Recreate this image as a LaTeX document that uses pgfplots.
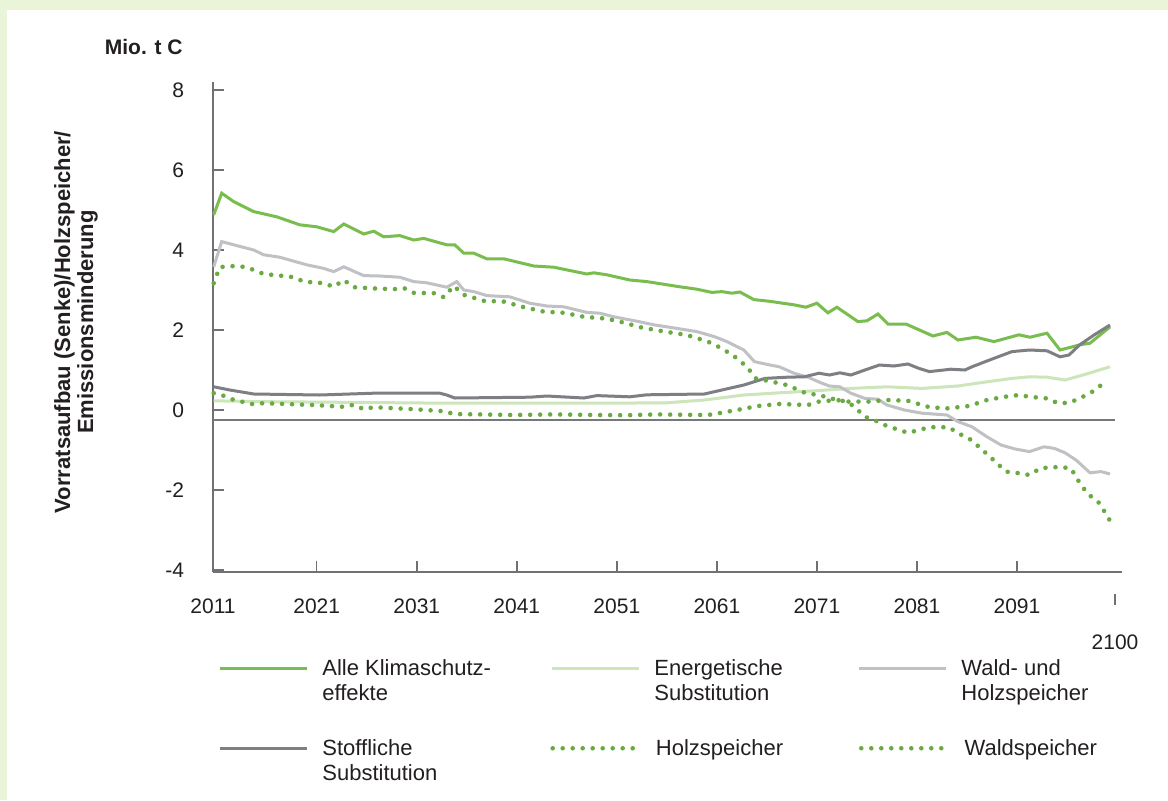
\documentclass[border=0pt]{standalone}
\usepackage{fontspec}
\setmainfont{Liberation Sans}
\usepackage{pgfplots}
\pgfplotsset{compat=1.18}
\definecolor{bggreen}{HTML}{E9F4D8}
\definecolor{txt}{HTML}{231F20}
\definecolor{axisgray}{HTML}{707174}
\definecolor{alle}{HTML}{79BD4F}
\definecolor{energ}{HTML}{CCE5BA}
\definecolor{waldholz}{HTML}{BFC1C4}
\definecolor{stoff}{HTML}{7D7F83}
\definecolor{dotgreen}{HTML}{6BAA43}
\definecolor{zeroline}{HTML}{77787B}

\pgfplotstableread{
year val
2010.7 4.88
2011.5 5.42
2012.7 5.21
2014.7 4.96
2017.0 4.83
2019.3 4.63
2021.0 4.58
2022.7 4.46
2023.7 4.65
2025.7 4.40
2026.7 4.47
2027.7 4.33
2029.3 4.36
2030.7 4.25
2031.7 4.29
2034.0 4.13
2034.8 4.13
2035.7 3.92
2036.7 3.92
2038.0 3.78
2039.7 3.78
2042.7 3.60
2044.7 3.57
2048.0 3.40
2048.7 3.43
2050.0 3.38
2052.3 3.25
2054.0 3.21
2057.3 3.08
2059.0 3.02
2060.5 2.94
2061.5 2.96
2062.5 2.92
2063.3 2.95
2064.7 2.76
2066.2 2.72
2068.7 2.63
2069.9 2.57
2071.0 2.67
2072.1 2.43
2073.0 2.57
2075.1 2.21
2076.0 2.23
2077.1 2.40
2078.1 2.15
2079.9 2.15
2082.6 1.85
2084.0 1.94
2085.1 1.75
2086.9 1.82
2088.7 1.71
2091.2 1.88
2092.3 1.82
2094.0 1.92
2095.3 1.50
2097.3 1.63
2098.3 1.67
2100.3 2.08
}\alletab

\pgfplotstableread{
year val
2010.7 0.23
2015.0 0.21
2020.0 0.20
2025.0 0.19
2034.0 0.17
2040.0 0.17
2049.4 0.17
2056.0 0.18
2059.75 0.25
2063.7 0.375
2067.25 0.43
2070.8 0.48
2074.4 0.54
2078.0 0.58
2081.5 0.54
2085.1 0.60
2087.0 0.67
2090.5 0.79
2092.25 0.83
2094.0 0.82
2095.8 0.75
2097.6 0.875
2100.3 1.08
}\energtab

\pgfplotstableread{
year val
2010.7 3.58
2011.5 4.21
2012.7 4.13
2014.7 4.00
2015.7 3.88
2017.3 3.82
2020.0 3.63
2021.7 3.54
2022.7 3.46
2023.7 3.58
2025.7 3.36
2027.3 3.35
2029.3 3.32
2030.7 3.21
2032.0 3.18
2034.0 3.07
2035.0 3.21
2035.7 3.00
2036.7 2.96
2038.0 2.86
2040.3 2.83
2042.3 2.67
2044.0 2.60
2045.7 2.58
2048.0 2.44
2049.3 2.42
2050.7 2.33
2053.0 2.22
2054.7 2.13
2056.5 2.06
2059.0 1.96
2060.8 1.83
2062.0 1.71
2063.7 1.50
2064.75 1.21
2066.2 1.13
2067.25 1.08
2068.7 0.92
2070.1 0.82
2071.5 0.67
2072.25 0.60
2073.3 0.58
2074.4 0.42
2075.8 0.29
2077.1 0.27
2078.0 0.125
2079.75 0.0
2081.5 -0.08
2084.0 -0.125
2085.1 -0.29
2086.5 -0.42
2088.0 -0.67
2089.4 -0.875
2090.8 -0.975
2092.25 -1.04
2093.7 -0.92
2094.75 -0.96
2095.8 -1.07
2096.9 -1.25
2098.3 -1.57
2099.4 -1.54
2100.3 -1.60
}\waldholztab

\pgfplotstableread{
year val
2010.7 0.58
2012.3 0.50
2014.7 0.40
2021.3 0.375
2026.7 0.42
2033.3 0.42
2034.0 0.375
2034.8 0.30
2042.3 0.32
2044.0 0.35
2047.7 0.30
2049.0 0.36
2052.3 0.33
2054.0 0.38
2059.75 0.40
2061.5 0.50
2063.7 0.625
2065.8 0.79
2068.0 0.82
2069.75 0.83
2071.2 0.92
2072.25 0.875
2073.3 0.93
2074.4 0.875
2075.8 1.00
2077.25 1.125
2078.7 1.10
2080.1 1.15
2081.2 1.04
2082.25 0.96
2084.4 1.02
2085.8 1.00
2086.5 1.08
2088.0 1.225
2089.0 1.32
2090.5 1.46
2092.25 1.50
2094.0 1.48
2095.3 1.33
2096.2 1.375
2097.25 1.625
2098.7 1.875
2100.3 2.125
}\stofftab

\pgfplotstableread{
year val
2010.7 0.42
2011.5 0.375
2012.5 0.27
2013.5 0.21
2014.5 0.15
2015.7 0.17
2020.7 0.125
2023.7 0.08
2024.7 0.13
2025.7 0.02
2026.7 0.07
2030.7 0.02
2033.7 -0.03
2034.7 -0.10
2040.7 -0.125
2044.7 -0.11
2049.0 -0.125
2052.0 -0.13
2055.0 -0.11
2058.0 -0.12
2060.1 -0.125
2061.2 -0.08
2063.0 0.0
2065.1 0.10
2067.25 0.15
2070.1 0.125
2071.2 0.21
2073.0 0.25
2074.0 0.21
2076.2 0.21
2078.0 0.25
2080.1 0.23
2082.25 0.07
2084.0 0.04
2085.1 0.07
2086.2 0.10
2088.0 0.25
2089.75 0.33
2091.2 0.375
2092.25 0.33
2094.0 0.29
2095.1 0.17
2096.2 0.18
2097.25 0.29
2098.3 0.42
2099.2 0.57
2099.9 0.77
}\holztab

\pgfplotstableread{
year val
2010.7 3.17
2011.3 3.57
2012.3 3.60
2013.7 3.58
2014.5 3.52
2015.7 3.40
2017.7 3.35
2018.7 3.32
2019.7 3.21
2021.7 3.17
2022.7 3.08
2023.7 3.25
2024.7 3.07
2026.7 3.04
2028.7 3.02
2029.7 3.05
2030.7 2.93
2032.7 2.92
2033.7 2.82
2034.7 3.10
2035.7 2.88
2037.7 2.73
2039.7 2.71
2041.7 2.57
2043.7 2.46
2045.7 2.43
2047.7 2.33
2049.7 2.29
2051.0 2.23
2053.5 2.06
2055.8 1.96
2058.0 1.875
2060.1 1.71
2061.5 1.54
2062.8 1.33
2064.0 1.08
2064.9 0.79
2066.2 0.725
2068.0 0.625
2069.9 0.42
2071.2 0.375
2073.0 0.25
2074.0 0.21
2074.75 0.08
2075.8 -0.17
2076.9 -0.27
2078.0 -0.40
2079.0 -0.48
2080.1 -0.57
2081.2 -0.50
2082.25 -0.43
2084.2 -0.43
2085.1 -0.58
2086.2 -0.71
2087.1 -0.90
2088.0 -1.10
2089.0 -1.33
2089.9 -1.54
2091.2 -1.58
2092.25 -1.625
2093.3 -1.46
2094.4 -1.43
2095.5 -1.43
2096.4 -1.46
2096.9 -1.67
2097.4 -1.875
2098.1 -2.10
2099.2 -2.32
2099.75 -2.54
2100.3 -2.77
}\waldtab

\pgfplotsset{
  commonlegend/.style={
    legend columns=3,
    legend cell align=left,
    legend style={anchor=north west, draw=none, fill=none,
      inner sep=0pt,
      font=\fontsize{11}{12.5}\selectfont, text=txt,
      nodes={inner sep=0pt},
      /tikz/every odd column/.append style={column sep=7pt}},
    legend image code/.code={\draw[##1] (0pt,0pt) -- (43.5pt,0pt);},
  },
  dotstyle/.style={dotgreen, line width=2.3pt, line cap=round, dash pattern=on 0pt off 5pt},
}

\begin{document}
\begin{tikzpicture}
\fill[bggreen] (0pt,0pt) rectangle (584pt,400pt);
\fill[white] (3.5pt,0pt) rectangle (584pt,395pt);
\node[anchor=east, font=\bfseries\fontsize{10.5}{12}\selectfont, text=txt, inner sep=0pt] at (91.5pt,376.5pt) {Mio. t C};
\node[rotate=90, align=center, font=\bfseries\fontsize{11}{11.5}\selectfont, text=txt, inner sep=0pt] at (38pt,239pt) {Vorratsaufbau (Senke)/Holzspeicher/\\Emissionsminderung};
\begin{axis}[
  at={(106.5pt,114pt)}, anchor=south west,
  scale only axis, width=454.5pt, height=245pt,
  xmin=2010.63, xmax=2101.5, ymin=-4.05, ymax=8.2,
  axis x line*=bottom, axis y line*=left,
  axis line style={draw=axisgray, line width=0.75pt, -},
  xtick={2010.63,2021,2031,2041,2051,2061,2071,2081,2091},
  xticklabels={2011,2021,2031,2041,2051,2061,2071,2081,2091},
  ytick={-4,-2,0,2,4,6,8},
  tick align=inside, major tick length=5.5pt,
  tick style={draw=axisgray, line width=0.75pt},
  /pgf/number format/assume math mode=true,
  /pgf/number format/1000 sep={},
  tick label style={font=\fontsize{10.5}{12}\selectfont, text=txt},
  xticklabel style={yshift=-10pt},
  yticklabel style={xshift=-11pt},
  extra x ticks={2100.8},
  extra x tick labels={2100},
  extra x tick style={tick style={yshift=-16.5pt}, xticklabel style={yshift=-18pt}},
  commonlegend,
  legend style={at={(0.0055,-0.175)}},
  clip=false,
]
\addplot[forget plot, draw=zeroline, line width=1pt] coordinates {(2010.63,-0.25) (2100.8,-0.25)};
\addplot[alle, line width=1.5pt] table[x=year,y=val] {\alletab};
\addlegendentry{\begin{tabular}[t]{@{}p{114pt}@{}}Alle Klimaschutz-\\effekte\end{tabular}}
\addplot[energ, line width=1.5pt] table[x=year,y=val] {\energtab};
\addlegendentry{\begin{tabular}[t]{@{}p{101.5pt}@{}}Energetische\\Substitution\end{tabular}}
\addplot[waldholz, line width=1.5pt] table[x=year,y=val] {\waldholztab};
\addlegendentry{\begin{tabular}[t]{@{}p{80pt}@{}}Wald- und\\Holzspeicher\end{tabular}}
\addplot[stoff, line width=1.5pt] table[x=year,y=val] {\stofftab};
\addplot[dotstyle] table[x=year,y=val] {\holztab};
\addplot[dotstyle] table[x=year,y=val] {\waldtab};
\end{axis}
\begin{axis}[
  at={(106.5pt,114pt)}, anchor=south west,
  scale only axis, width=454.5pt, height=245pt,
  xmin=2010.63, xmax=2101.5, ymin=-4.05, ymax=8.2,
  hide axis,
  commonlegend,
  legend style={at={(0.0055,-0.338)}},
]
\addlegendimage{stoff, line width=1.5pt}
\addlegendentry{\begin{tabular}[t]{@{}p{114pt}@{}}Stoffliche\\Substitution\end{tabular}}
\addlegendimage{dotstyle}
\addlegendentry{\begin{tabular}[t]{@{}p{101.5pt}@{}}Holzspeicher\end{tabular}}
\addlegendimage{dotstyle}
\addlegendentry{\begin{tabular}[t]{@{}p{80pt}@{}}Waldspeicher\end{tabular}}
\end{axis}
\end{tikzpicture}
\end{document}
